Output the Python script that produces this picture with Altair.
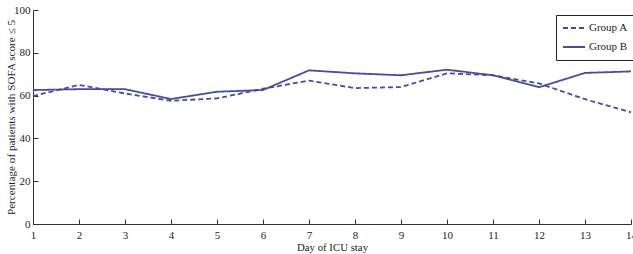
import altair as alt
import pandas as pd

days = list(range(1, 15))
group_a = [59.8, 65.0, 61.0, 57.6, 58.7, 63.2, 67.0, 63.5, 64.0, 70.4, 69.5, 65.7, 58.3, 52.2]
group_b = [62.6, 63.0, 63.0, 58.4, 61.8, 62.6, 71.8, 70.4, 69.5, 72.1, 69.5, 63.9, 70.6, 71.3]
groups = ["Group A", "Group B"]
y_ticks = [0, 20, 40, 60, 80, 100]

rows = []
for d, a, b in zip(days, group_a, group_b):
    rows.append({"day": d, "value": a, "group": groups[0]})
    rows.append({"day": d, "value": b, "group": groups[1]})
df = pd.DataFrame(rows)

COLOR = "#4a4a9e"
FONT = "Liberation Serif"
W, H = 598, 214

x_scale = alt.Scale(domain=[1, 14], nice=False, zero=False)
y_scale = alt.Scale(domain=[0, 100], nice=False)

leg = dict(title=None, orient="none", legendX=523, legendY=5,
           symbolType="stroke", symbolSize=484, symbolStrokeWidth=1.8, padding=6,
           strokeColor="#222", fillColor="white", cornerRadius=0, rowPadding=5,
           clipHeight=14, labelFontSize=11, labelFont=FONT, labelColor="#222",
           labelOffset=3)

lines = alt.Chart(df).mark_line(strokeWidth=1.8).encode(
    x=alt.X("day:Q", scale=x_scale,
            axis=alt.Axis(title="Day of ICU stay", values=days, ticks=False,
                          labelPadding=5, grid=False, domainColor="#333",
                          labelFlush=False, labelOverlap=False, titlePadding=1,
                          titleFontSize=10.8, format="d")),
    y=alt.Y("value:Q", scale=y_scale,
            axis=alt.Axis(title="Percentage of patients with SOFA score ≤ 5", values=y_ticks,
                          ticks=False, labelPadding=3, grid=False, domainColor="#333",
                          titlePadding=-3, titleFontSize=11.2, labelFlush=False)),
    color=alt.Color("group:N", scale=alt.Scale(domain=groups, range=[COLOR, COLOR]),
                    legend=alt.Legend(**leg)),
    strokeDash=alt.StrokeDash("group:N",
                              scale=alt.Scale(domain=groups, range=[[5, 3], [1, 0]]),
                              legend=alt.Legend(**leg)),
)

ticks = alt.Chart(df).mark_point(opacity=0).encode(
    x=alt.X("day:Q", scale=x_scale,
            axis=alt.Axis(orient="top", offset=-H, labels=False, domain=False, title=None,
                          values=days, tickSize=5, tickColor="#333", grid=False)),
    y=alt.Y("value:Q", scale=y_scale,
            axis=alt.Axis(orient="right", offset=-W, labels=False, domain=False, title=None,
                          values=y_ticks, tickSize=5, tickColor="#333", grid=False)),
)

chart = alt.layer(lines, ticks).resolve_axis(x="independent", y="independent").properties(
    width=W, height=H,
    autosize=alt.AutoSizeParams(type="none"),
    padding={"left": 33, "top": 10, "right": 2, "bottom": 30},
    background="white",
).configure_view(stroke=None).configure_axis(
    labelFont=FONT, titleFont=FONT, labelFontSize=11, titleFontSize=10.5,
    titleFontWeight="normal", labelColor="#222", titleColor="#222",
)

chart.save("out.html", embed_options={"renderer": "svg", "actions": False})
